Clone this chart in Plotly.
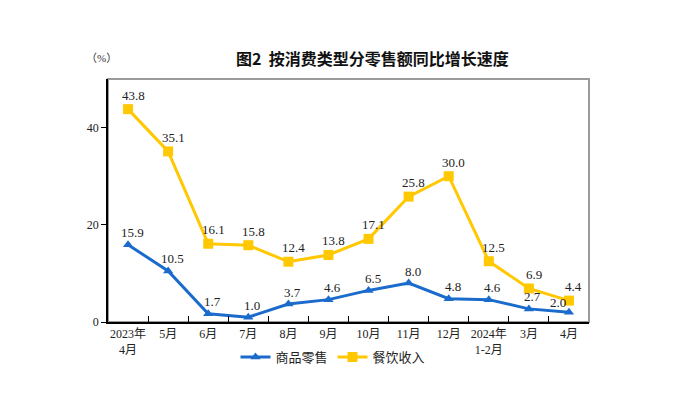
import plotly.graph_objects as go

categories = ["2023年<br>4月", "5月", "6月", "7月", "8月", "9月", "10月", "11月", "12月",
              "2024年<br>1-2月", "3月", "4月"]
retail_goods = [15.9, 10.5, 1.7, 1.0, 3.7, 4.6, 6.5, 8.0, 4.8, 4.6, 2.7, 2.0]
catering = [43.8, 35.1, 16.1, 15.8, 12.4, 13.8, 17.1, 25.8, 30.0, 12.5, 6.9, 4.4]
series_names = ["商品零售", "餐饮收入"]
title_text = "图2  按消费类型分零售额同比增长速度"
unit_text = "（%）"

BLUE = "#1A6BCB"
YELLOW = "#FFC800"
SERIF = "Liberation Serif, Noto Sans CJK SC, serif"

fig = go.Figure()
fig.add_trace(go.Scatter(
    x=categories, y=retail_goods, name=series_names[0], mode="lines+markers",
    line=dict(color=BLUE, width=3),
    marker=dict(symbol="triangle-up", size=9, color=BLUE),
))
fig.add_trace(go.Scatter(
    x=categories, y=catering, name=series_names[1], mode="lines+markers",
    line=dict(color=YELLOW, width=3),
    marker=dict(symbol="square", size=10, color=YELLOW),
))

OFF = 8  # default page body margin
W, H = 673 - OFF, 407 - OFF
L, T = 108 - OFF, 79 - OFF
R, B = W - (589 - OFF), H - (322 - OFF)
pw, ph = W - L - R, H - T - B


def px_x(px):
    return (px - OFF - L) / pw


def px_y(py):
    return (H - B - (py - OFF)) / ph


annotations = []
for i, (c, v) in enumerate(zip(categories, retail_goods)):
    last = i == len(categories) - 1
    annotations.append(dict(
        x=c, y=v, xref="x", yref="y", text=f"{v:.1f}", showarrow=False,
        xshift=-11 if last else 4, yshift=10 if last else 12, yanchor="middle",
        font=dict(family=SERIF, size=13, color="#222"),
    ))
for c, v in zip(categories, catering):
    annotations.append(dict(
        x=c, y=v, xref="x", yref="y", text=f"{v:.1f}", showarrow=False,
        xshift=5, yshift=14, yanchor="middle",
        font=dict(family=SERIF, size=13, color="#222"),
    ))
annotations.append(dict(
    x=px_x(372), y=px_y(58), xref="paper", yref="paper", text=f"<b>{title_text}</b>",
    showarrow=False, xanchor="center", yanchor="middle",
    font=dict(family="Noto Sans CJK SC, sans-serif", size=16, color="#111"),
))
annotations.append(dict(
    x=px_x(101), y=px_y(58), xref="paper", yref="paper", text=unit_text, showarrow=False,
    xanchor="center", yanchor="middle",
    font=dict(family=SERIF, size=11, color="#333"),
))

fig.update_layout(
    width=W, height=H,
    margin=dict(l=L, r=R, t=T, b=B, pad=0, autoexpand=False),
    paper_bgcolor="white", plot_bgcolor="white",
    showlegend=True,
    legend=dict(orientation="h", x=px_x(333), xanchor="center", y=px_y(357),
                yanchor="middle", font=dict(family="Noto Sans CJK SC, sans-serif", size=13, color="#222"),
                traceorder="normal"),
    annotations=annotations,
    shapes=[dict(type="rect", xref="paper", yref="paper", x0=0, x1=1, y0=0, y1=1,
                 line=dict(color="#9a9a9a", width=2), layer="below")],
)
fig.update_xaxes(
    type="category", showline=True, linecolor="black", linewidth=1.5,
    ticks="inside", tickson="boundaries", ticklen=6, tickcolor="black",
    showgrid=False, tickfont=dict(family=SERIF, size=12, color="#222"),
    tickangle=0, automargin=False,
    range=[-0.5, len(categories) - 0.5], fixedrange=True,
)
fig.update_yaxes(
    range=[0, 50], tickvals=[0, 20, 40], showline=True, linecolor="black", linewidth=1.5,
    ticks="outside", ticklen=5, tickcolor="black", showgrid=False, zeroline=False,
    automargin=False,
    tickfont=dict(family=SERIF, size=12, color="#222"),
)
fig.write_html("out.html")
